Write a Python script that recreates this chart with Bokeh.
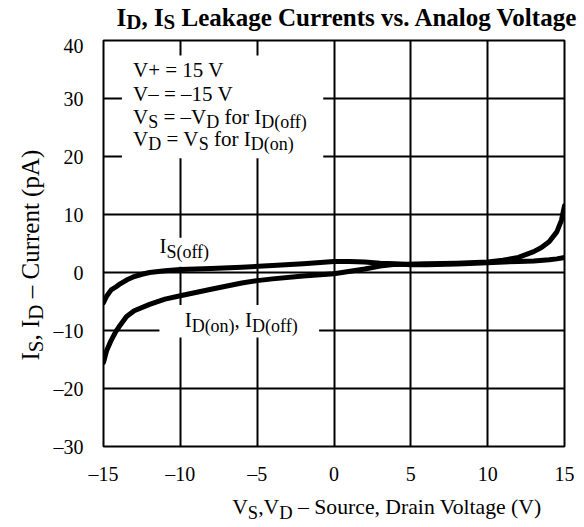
import math
from bokeh.plotting import figure
from bokeh.models import Label, BoxAnnotation, FixedTicker
from bokeh.layouts import column, row
from bokeh.embed import file_html
from bokeh.resources import INLINE

# ---------------- data ----------------
v_s = [-15, -14.8, -14.5, -14.2, -14, -13.5, -13, -12.5, -12, -11, -10, -8, -6, -4, -2, 0, 1, 2, 3, 4, 5, 6, 8, 10, 12, 13, 14, 14.5, 15]
i_s_off = [-5.2, -4.1, -3.0, -2.5, -2.1, -1.3, -0.7, -0.3, 0.0, 0.3, 0.5, 0.7, 0.9, 1.2, 1.5, 1.9, 1.9, 1.8, 1.6, 1.5, 1.35, 1.35, 1.45, 1.7, 1.9, 2.0, 2.2, 2.35, 2.6]

v_d = [-15, -14.9, -14.8, -14.5, -14.2, -14, -13.5, -13, -12, -11, -10, -8, -6, -5, -4, -2, 0, 2, 3, 4, 6, 8, 10, 11, 12, 13, 13.5, 14, 14.5, 14.8, 15]
i_d = [-15.5, -14.5, -13.5, -11.7, -10.2, -9.4, -7.6, -6.6, -5.5, -4.6, -4.0, -2.9, -1.8, -1.4, -1.1, -0.6, -0.2, 0.6, 1.1, 1.4, 1.5, 1.6, 1.8, 2.1, 2.6, 3.6, 4.3, 5.3, 7.0, 9.0, 11.5]

x_ticks = [-15, -10, -5, 0, 5, 10, 15]
x_tick_labels = ["\u201315", "\u201310", "\u20135", "0", "5", "10", "15"]
y_ticks = [-30, -20, -10, 0, 10, 20, 30, 40]
y_tick_labels = ["\u201330", "\u201320", "\u201310", "0", "10", "20", "30", "40"]

FONT = "Liberation Serif"
MID = 0.3375  # distance (em) from the em-box middle to the alphabetic baseline

REG = {' ': 250, '+': 564, '=': 564, '\u2013': 500, 'V': 722, 'S': 556, 'D': 722, 'I': 333,
       'f': 333, 'o': 500, 'r': 333, 'n': 500, '(': 333, ')': 333, ',': 250, 'C': 667, 'u': 500,
       'e': 444, 't': 278, 'p': 500, 'A': 722, 'c': 444, 'a': 444, 'i': 278, 'g': 500, 'l': 278,
       '.': 250, 's': 389, 'v': 500, 'k': 500, 'L': 611}
BOLD = {' ': 250, 'I': 389, 'D': 722, 'S': 556, ',': 250, 'L': 667, 'e': 444, 'a': 500, 'k': 556,
        'g': 500, 'C': 722, 'u': 556, 'r': 444, 'n': 556, 't': 333, 's': 389, 'v': 500, '.': 250,
        'A': 722, 'l': 278, 'o': 500, 'V': 722}


def tw(s, size, bold):
    tbl = BOLD if bold else REG
    return sum(tbl.get(c, 500) for c in s) * size / 1000.0


def rich(fig, x, y, segs, size, sub_size, drop, bold=False, angle=0.0):
    """Text with subscripts, (x, y) is the start of the baseline."""
    off = 0.0
    for text, kind in segs:
        sz = size if kind == "n" else sub_size
        d = 0.0 if kind == "n" else drop
        stripped = text.lstrip(" ")
        lead = tw(text[:len(text) - len(stripped)], sz, bold)
        body = stripped.rstrip(" ")
        kw = dict(x=x, y=y, text=body, text_font=FONT, text_font_size=f"{sz}px",
                  text_color="black", text_align="left", text_baseline="middle",
                  text_font_style="bold" if bold else "normal")
        if angle == 0.0:
            lab = Label(x_offset=off + lead, y_offset=-d + MID * sz, **kw)
        else:
            lab = Label(x_offset=d - MID * sz, y_offset=off + lead, angle=angle, **kw)
        fig.add_layout(lab)
        off += tw(text, sz, bold)


def text_fig(w, h):
    f = figure(width=w, height=h, x_range=(0, w), y_range=(0, h), x_axis_type=None, y_axis_type=None,
               output_backend="svg", toolbar_location=None, min_border=0)
    f.title.visible = False
    f.outline_line_color = None
    f.background_fill_color = "white"
    f.border_fill_color = "white"
    f.xgrid.visible = False
    f.ygrid.visible = False
    return f


# ---------------- main plot ----------------
p = figure(width=533, height=461, x_range=(-15, 15), y_range=(-30, 40),
           output_backend="svg", toolbar_location=None,
           min_border_left=52, min_border_right=19, min_border_top=6, min_border_bottom=49)
p.title.visible = False
p.background_fill_color = "white"
p.border_fill_color = "white"
p.outline_line_color = "black"
p.outline_line_width = 2

for ax, ticks, labels in ((p.xaxis[0], x_ticks, x_tick_labels), (p.yaxis[0], y_ticks, y_tick_labels)):
    ax.ticker = FixedTicker(ticks=ticks)
    ax.major_label_overrides = {t: l for t, l in zip(ticks, labels)}
    ax.axis_line_color = None
    ax.major_tick_line_color = None
    ax.minor_tick_line_color = None
    ax.major_label_text_font = FONT
    ax.major_label_text_font_size = "20px"
    ax.major_label_text_color = "black"
p.xaxis.major_label_standoff = 10
p.yaxis.major_label_standoff = 14

p.xgrid.ticker = FixedTicker(ticks=x_ticks)
p.ygrid.ticker = FixedTicker(ticks=y_ticks)
for g in (p.xgrid[0], p.ygrid[0]):
    g.grid_line_color = "black"
    g.grid_line_alpha = 1.0
    g.grid_line_width = 2

# white boxes that interrupt the grid behind the texts
for l, r, b, t in ((-13.8, -0.7, 19.7, 37.4), (-11.9, -7.7, 1.0, 6.0), (-11.36, -0.97, -11.2, -5.6)):
    p.add_layout(BoxAnnotation(left=l, right=r, bottom=b, top=t, fill_color="white", fill_alpha=1.0,
                               line_color=None, level="underlay"))

p.line(v_s, i_s_off, line_color="black", line_width=5, line_cap="round", line_join="round")
p.line(v_d, i_d, line_color="black", line_width=5, line_cap="round", line_join="round")

# condition block
rich(p, -13.08, 33.71, [("V+ = 15 V", "n")], 21, 18, 4.5)
rich(p, -13.08, 29.57, [("V\u2013 = \u201315 V", "n")], 21, 18, 4.5)
rich(p, -13.08, 25.6, [("V", "n"), ("S", "s"), (" = \u2013V", "n"), ("D", "s"), (" for I", "n"), ("D(off)", "s")], 21, 18, 4.5)
rich(p, -13.08, 21.81, [("V", "n"), ("D", "s"), (" = V", "n"), ("S", "s"), (" for I", "n"), ("D(on)", "s")], 21, 18, 4.5)

# curve labels
rich(p, -11.36, 3.28, [("I", "n"), ("S(off)", "s")], 21, 18, 4.5)
rich(p, -9.72, -9.43, [("I", "n"), ("D(on)", "s"), (", I", "n"), ("D(off)", "s")], 21, 18, 4.5)

# ---------------- title / axis-title panels ----------------
title_fig = text_fig(583, 34)
rich(title_fig, 116, 9, [("I", "n"), ("D", "s"), (", I", "n"), ("S", "s"),
                         (" Leakage Currents vs. Analog Voltage", "n")], 25, 21, 3.5, bold=True)

# the row aligns this panel's frame with the plot frame (406 px tall)
ylab_fig = text_fig(50, 461)
ylab_fig.y_range.end = 406
rich(ylab_fig, 38, 86, [("I", "n"), ("S", "s"), (", I", "n"), ("D", "s"),
                        (" \u2013 Current (pA)", "n")], 25, 21, 5, angle=math.pi / 2)

xlab_fig = text_fig(583, 31)
rich(xlab_fig, 231.7, 12, [("V", "n"), ("S", "s"), (",V", "n"), ("D", "s"),
                           (" \u2013 Source, Drain Voltage (V)", "n")], 21.7, 18.5, 4.5)

layout = column(title_fig, row(ylab_fig, p), xlab_fig)

open("out.html", "w").write(file_html(layout, INLINE))
